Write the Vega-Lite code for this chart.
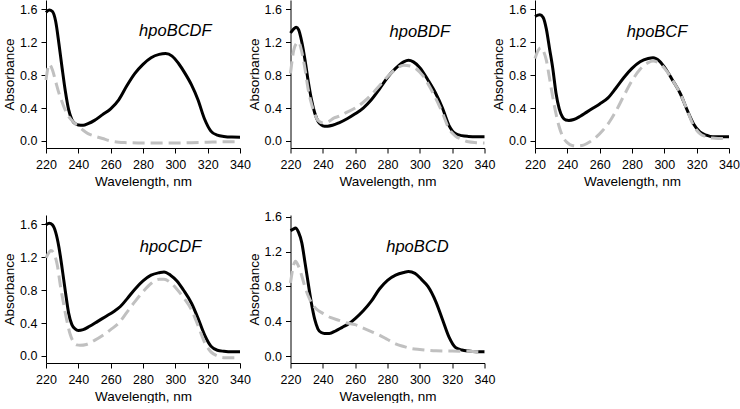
{
  "$schema": "https://vega.github.io/schema/vega-lite/v6.json",
  "padding": {"left": 2, "top": 0, "right": 0, "bottom": 0},
  "background": "white",
  "bounds": "flush",
  "config": {
    "view": {"stroke": null},
    "axis": {"grid": false, "domainColor": "black", "tickColor": "black", "tickSize": 5, "labelFont": "Liberation Sans", "labelFontSize": 12.5, "labelColor": "black", "titleFont": "Liberation Sans", "titleFontSize": 13.5, "titleFontWeight": "normal", "titleColor": "black", "labelFlush": false, "labelOverlap": false},
    "axisX": {"labelPadding": 5, "titlePadding": 4},
    "axisY": {"labelPadding": 4, "titlePadding": 3}
  },
  "datasets": {
    "spectra": [
      {"panel":"hpoBCDF","series":"1","wl":220,"abs":1.56},{"panel":"hpoBCDF","series":"1","wl":222,"abs":1.59},{"panel":"hpoBCDF","series":"1","wl":224,"abs":1.57},{"panel":"hpoBCDF","series":"1","wl":226,"abs":1.45},{"panel":"hpoBCDF","series":"1","wl":228,"abs":1.18},{"panel":"hpoBCDF","series":"1","wl":230,"abs":0.88},{"panel":"hpoBCDF","series":"1","wl":232,"abs":0.6},{"panel":"hpoBCDF","series":"1","wl":234,"abs":0.38},{"panel":"hpoBCDF","series":"1","wl":236,"abs":0.26},{"panel":"hpoBCDF","series":"1","wl":238,"abs":0.21},{"panel":"hpoBCDF","series":"1","wl":240,"abs":0.195},{"panel":"hpoBCDF","series":"1","wl":243,"abs":0.19},{"panel":"hpoBCDF","series":"1","wl":246,"abs":0.21},{"panel":"hpoBCDF","series":"1","wl":250,"abs":0.25},{"panel":"hpoBCDF","series":"1","wl":255,"abs":0.32},{"panel":"hpoBCDF","series":"1","wl":260,"abs":0.39},{"panel":"hpoBCDF","series":"1","wl":265,"abs":0.5},{"panel":"hpoBCDF","series":"1","wl":270,"abs":0.67},{"panel":"hpoBCDF","series":"1","wl":275,"abs":0.82},{"panel":"hpoBCDF","series":"1","wl":280,"abs":0.93},{"panel":"hpoBCDF","series":"1","wl":285,"abs":1.01},{"panel":"hpoBCDF","series":"1","wl":290,"abs":1.05},{"panel":"hpoBCDF","series":"1","wl":294,"abs":1.06},{"panel":"hpoBCDF","series":"1","wl":298,"abs":1.03},{"panel":"hpoBCDF","series":"1","wl":302,"abs":0.94},{"panel":"hpoBCDF","series":"1","wl":306,"abs":0.82},{"panel":"hpoBCDF","series":"1","wl":310,"abs":0.68},{"panel":"hpoBCDF","series":"1","wl":314,"abs":0.5},{"panel":"hpoBCDF","series":"1","wl":318,"abs":0.27},{"panel":"hpoBCDF","series":"1","wl":322,"abs":0.12},{"panel":"hpoBCDF","series":"1","wl":326,"abs":0.07},{"panel":"hpoBCDF","series":"1","wl":330,"abs":0.055},{"panel":"hpoBCDF","series":"1","wl":335,"abs":0.047},{"panel":"hpoBCDF","series":"1","wl":340,"abs":0.045},
      {"panel":"hpoBCDF","series":"2","wl":220,"abs":0.74},{"panel":"hpoBCDF","series":"2","wl":222,"abs":0.93},{"panel":"hpoBCDF","series":"2","wl":224,"abs":0.86},{"panel":"hpoBCDF","series":"2","wl":226,"abs":0.72},{"panel":"hpoBCDF","series":"2","wl":228,"abs":0.58},{"panel":"hpoBCDF","series":"2","wl":230,"abs":0.47},{"panel":"hpoBCDF","series":"2","wl":232,"abs":0.37},{"panel":"hpoBCDF","series":"2","wl":234,"abs":0.3},{"panel":"hpoBCDF","series":"2","wl":236,"abs":0.25},{"panel":"hpoBCDF","series":"2","wl":238,"abs":0.21},{"panel":"hpoBCDF","series":"2","wl":240,"abs":0.18},{"panel":"hpoBCDF","series":"2","wl":243,"abs":0.13},{"panel":"hpoBCDF","series":"2","wl":246,"abs":0.09},{"panel":"hpoBCDF","series":"2","wl":250,"abs":0.06},{"panel":"hpoBCDF","series":"2","wl":255,"abs":0.03},{"panel":"hpoBCDF","series":"2","wl":260,"abs":0.0},{"panel":"hpoBCDF","series":"2","wl":265,"abs":-0.015},{"panel":"hpoBCDF","series":"2","wl":270,"abs":-0.02},{"panel":"hpoBCDF","series":"2","wl":280,"abs":-0.025},{"panel":"hpoBCDF","series":"2","wl":290,"abs":-0.025},{"panel":"hpoBCDF","series":"2","wl":300,"abs":-0.025},{"panel":"hpoBCDF","series":"2","wl":310,"abs":-0.02},{"panel":"hpoBCDF","series":"2","wl":320,"abs":-0.015},{"panel":"hpoBCDF","series":"2","wl":330,"abs":-0.01},{"panel":"hpoBCDF","series":"2","wl":340,"abs":-0.01},
      {"panel":"hpoBDF","series":"1","wl":220,"abs":1.31},{"panel":"hpoBDF","series":"1","wl":222,"abs":1.36},{"panel":"hpoBDF","series":"1","wl":223.5,"abs":1.38},{"panel":"hpoBDF","series":"1","wl":225,"abs":1.35},{"panel":"hpoBDF","series":"1","wl":227,"abs":1.2},{"panel":"hpoBDF","series":"1","wl":229,"abs":0.98},{"panel":"hpoBDF","series":"1","wl":231,"abs":0.72},{"panel":"hpoBDF","series":"1","wl":233,"abs":0.5},{"panel":"hpoBDF","series":"1","wl":235,"abs":0.34},{"panel":"hpoBDF","series":"1","wl":237,"abs":0.24},{"panel":"hpoBDF","series":"1","wl":239,"abs":0.195},{"panel":"hpoBDF","series":"1","wl":241,"abs":0.18},{"panel":"hpoBDF","series":"1","wl":243,"abs":0.18},{"panel":"hpoBDF","series":"1","wl":246,"abs":0.19},{"panel":"hpoBDF","series":"1","wl":250,"abs":0.22},{"panel":"hpoBDF","series":"1","wl":255,"abs":0.27},{"panel":"hpoBDF","series":"1","wl":260,"abs":0.33},{"panel":"hpoBDF","series":"1","wl":265,"abs":0.4},{"panel":"hpoBDF","series":"1","wl":270,"abs":0.5},{"panel":"hpoBDF","series":"1","wl":275,"abs":0.63},{"panel":"hpoBDF","series":"1","wl":280,"abs":0.77},{"panel":"hpoBDF","series":"1","wl":285,"abs":0.88},{"panel":"hpoBDF","series":"1","wl":290,"abs":0.96},{"panel":"hpoBDF","series":"1","wl":293,"abs":0.98},{"panel":"hpoBDF","series":"1","wl":296,"abs":0.96},{"panel":"hpoBDF","series":"1","wl":300,"abs":0.89},{"panel":"hpoBDF","series":"1","wl":305,"abs":0.74},{"panel":"hpoBDF","series":"1","wl":310,"abs":0.57},{"panel":"hpoBDF","series":"1","wl":314,"abs":0.4},{"panel":"hpoBDF","series":"1","wl":318,"abs":0.19},{"panel":"hpoBDF","series":"1","wl":322,"abs":0.09},{"panel":"hpoBDF","series":"1","wl":326,"abs":0.065},{"panel":"hpoBDF","series":"1","wl":330,"abs":0.055},{"panel":"hpoBDF","series":"1","wl":335,"abs":0.05},{"panel":"hpoBDF","series":"1","wl":340,"abs":0.05},
      {"panel":"hpoBDF","series":"2","wl":220,"abs":0.82},{"panel":"hpoBDF","series":"2","wl":222,"abs":1.1},{"panel":"hpoBDF","series":"2","wl":224,"abs":1.19},{"panel":"hpoBDF","series":"2","wl":225,"abs":1.2},{"panel":"hpoBDF","series":"2","wl":227,"abs":1.08},{"panel":"hpoBDF","series":"2","wl":229,"abs":0.87},{"panel":"hpoBDF","series":"2","wl":231,"abs":0.62},{"panel":"hpoBDF","series":"2","wl":233,"abs":0.45},{"panel":"hpoBDF","series":"2","wl":235,"abs":0.33},{"panel":"hpoBDF","series":"2","wl":237,"abs":0.25},{"panel":"hpoBDF","series":"2","wl":240,"abs":0.22},{"panel":"hpoBDF","series":"2","wl":243,"abs":0.23},{"panel":"hpoBDF","series":"2","wl":247,"abs":0.28},{"panel":"hpoBDF","series":"2","wl":250,"abs":0.3},{"panel":"hpoBDF","series":"2","wl":255,"abs":0.35},{"panel":"hpoBDF","series":"2","wl":260,"abs":0.4},{"panel":"hpoBDF","series":"2","wl":265,"abs":0.47},{"panel":"hpoBDF","series":"2","wl":270,"abs":0.56},{"panel":"hpoBDF","series":"2","wl":275,"abs":0.67},{"panel":"hpoBDF","series":"2","wl":280,"abs":0.78},{"panel":"hpoBDF","series":"2","wl":285,"abs":0.87},{"panel":"hpoBDF","series":"2","wl":290,"abs":0.92},{"panel":"hpoBDF","series":"2","wl":294,"abs":0.91},{"panel":"hpoBDF","series":"2","wl":298,"abs":0.87},{"panel":"hpoBDF","series":"2","wl":302,"abs":0.79},{"panel":"hpoBDF","series":"2","wl":306,"abs":0.66},{"panel":"hpoBDF","series":"2","wl":310,"abs":0.51},{"panel":"hpoBDF","series":"2","wl":314,"abs":0.34},{"panel":"hpoBDF","series":"2","wl":318,"abs":0.15},{"panel":"hpoBDF","series":"2","wl":322,"abs":0.06},{"panel":"hpoBDF","series":"2","wl":326,"abs":0.02},{"panel":"hpoBDF","series":"2","wl":330,"abs":-0.01},{"panel":"hpoBDF","series":"2","wl":335,"abs":-0.02},{"panel":"hpoBDF","series":"2","wl":340,"abs":-0.025},
      {"panel":"hpoBCF","series":"1","wl":220,"abs":1.51},{"panel":"hpoBCF","series":"1","wl":223,"abs":1.53},{"panel":"hpoBCF","series":"1","wl":225,"abs":1.5},{"panel":"hpoBCF","series":"1","wl":227,"abs":1.36},{"panel":"hpoBCF","series":"1","wl":229,"abs":1.12},{"panel":"hpoBCF","series":"1","wl":231,"abs":0.88},{"panel":"hpoBCF","series":"1","wl":233,"abs":0.58},{"panel":"hpoBCF","series":"1","wl":235,"abs":0.39},{"panel":"hpoBCF","series":"1","wl":237,"abs":0.29},{"panel":"hpoBCF","series":"1","wl":239,"abs":0.255},{"panel":"hpoBCF","series":"1","wl":241,"abs":0.25},{"panel":"hpoBCF","series":"1","wl":244,"abs":0.26},{"panel":"hpoBCF","series":"1","wl":248,"abs":0.3},{"panel":"hpoBCF","series":"1","wl":252,"abs":0.35},{"panel":"hpoBCF","series":"1","wl":256,"abs":0.4},{"panel":"hpoBCF","series":"1","wl":260,"abs":0.45},{"panel":"hpoBCF","series":"1","wl":265,"abs":0.52},{"panel":"hpoBCF","series":"1","wl":270,"abs":0.64},{"panel":"hpoBCF","series":"1","wl":275,"abs":0.77},{"panel":"hpoBCF","series":"1","wl":280,"abs":0.88},{"panel":"hpoBCF","series":"1","wl":285,"abs":0.96},{"panel":"hpoBCF","series":"1","wl":290,"abs":1.0},{"panel":"hpoBCF","series":"1","wl":293,"abs":1.01},{"panel":"hpoBCF","series":"1","wl":297,"abs":0.97},{"panel":"hpoBCF","series":"1","wl":301,"abs":0.87},{"panel":"hpoBCF","series":"1","wl":305,"abs":0.74},{"panel":"hpoBCF","series":"1","wl":310,"abs":0.57},{"panel":"hpoBCF","series":"1","wl":314,"abs":0.38},{"panel":"hpoBCF","series":"1","wl":318,"abs":0.21},{"panel":"hpoBCF","series":"1","wl":322,"abs":0.11},{"panel":"hpoBCF","series":"1","wl":326,"abs":0.07},{"panel":"hpoBCF","series":"1","wl":330,"abs":0.05},{"panel":"hpoBCF","series":"1","wl":335,"abs":0.05},{"panel":"hpoBCF","series":"1","wl":340,"abs":0.05},
      {"panel":"hpoBCF","series":"2","wl":220,"abs":1.0},{"panel":"hpoBCF","series":"2","wl":222,"abs":1.1},{"panel":"hpoBCF","series":"2","wl":223.5,"abs":1.13},{"panel":"hpoBCF","series":"2","wl":225,"abs":1.1},{"panel":"hpoBCF","series":"2","wl":227,"abs":0.98},{"panel":"hpoBCF","series":"2","wl":229,"abs":0.76},{"panel":"hpoBCF","series":"2","wl":231,"abs":0.53},{"panel":"hpoBCF","series":"2","wl":233,"abs":0.33},{"panel":"hpoBCF","series":"2","wl":235,"abs":0.17},{"panel":"hpoBCF","series":"2","wl":237,"abs":0.06},{"panel":"hpoBCF","series":"2","wl":240,"abs":-0.02},{"panel":"hpoBCF","series":"2","wl":243,"abs":-0.055},{"panel":"hpoBCF","series":"2","wl":246,"abs":-0.06},{"panel":"hpoBCF","series":"2","wl":250,"abs":-0.05},{"panel":"hpoBCF","series":"2","wl":254,"abs":-0.01},{"panel":"hpoBCF","series":"2","wl":258,"abs":0.05},{"panel":"hpoBCF","series":"2","wl":262,"abs":0.13},{"panel":"hpoBCF","series":"2","wl":266,"abs":0.23},{"panel":"hpoBCF","series":"2","wl":270,"abs":0.36},{"panel":"hpoBCF","series":"2","wl":275,"abs":0.55},{"panel":"hpoBCF","series":"2","wl":280,"abs":0.73},{"panel":"hpoBCF","series":"2","wl":285,"abs":0.87},{"panel":"hpoBCF","series":"2","wl":290,"abs":0.95},{"panel":"hpoBCF","series":"2","wl":293,"abs":0.97},{"panel":"hpoBCF","series":"2","wl":297,"abs":0.94},{"panel":"hpoBCF","series":"2","wl":301,"abs":0.86},{"panel":"hpoBCF","series":"2","wl":305,"abs":0.74},{"panel":"hpoBCF","series":"2","wl":310,"abs":0.57},{"panel":"hpoBCF","series":"2","wl":314,"abs":0.38},{"panel":"hpoBCF","series":"2","wl":318,"abs":0.19},{"panel":"hpoBCF","series":"2","wl":322,"abs":0.09},{"panel":"hpoBCF","series":"2","wl":326,"abs":0.05},{"panel":"hpoBCF","series":"2","wl":330,"abs":0.035},{"panel":"hpoBCF","series":"2","wl":335,"abs":0.03},{"panel":"hpoBCF","series":"2","wl":340,"abs":0.025},
      {"panel":"hpoCDF","series":"1","wl":220,"abs":1.59},{"panel":"hpoCDF","series":"1","wl":222,"abs":1.61},{"panel":"hpoCDF","series":"1","wl":224,"abs":1.59},{"panel":"hpoCDF","series":"1","wl":226,"abs":1.5},{"panel":"hpoCDF","series":"1","wl":228,"abs":1.32},{"panel":"hpoCDF","series":"1","wl":230,"abs":1.06},{"panel":"hpoCDF","series":"1","wl":232,"abs":0.78},{"panel":"hpoCDF","series":"1","wl":234,"abs":0.52},{"panel":"hpoCDF","series":"1","wl":236,"abs":0.38},{"panel":"hpoCDF","series":"1","wl":238,"abs":0.33},{"panel":"hpoCDF","series":"1","wl":240,"abs":0.31},{"panel":"hpoCDF","series":"1","wl":243,"abs":0.32},{"panel":"hpoCDF","series":"1","wl":247,"abs":0.36},{"panel":"hpoCDF","series":"1","wl":252,"abs":0.42},{"panel":"hpoCDF","series":"1","wl":257,"abs":0.48},{"panel":"hpoCDF","series":"1","wl":262,"abs":0.54},{"panel":"hpoCDF","series":"1","wl":266,"abs":0.6},{"panel":"hpoCDF","series":"1","wl":270,"abs":0.69},{"panel":"hpoCDF","series":"1","wl":275,"abs":0.81},{"panel":"hpoCDF","series":"1","wl":280,"abs":0.91},{"panel":"hpoCDF","series":"1","wl":285,"abs":0.98},{"panel":"hpoCDF","series":"1","wl":290,"abs":1.01},{"panel":"hpoCDF","series":"1","wl":293,"abs":1.02},{"panel":"hpoCDF","series":"1","wl":297,"abs":0.98},{"panel":"hpoCDF","series":"1","wl":301,"abs":0.91},{"panel":"hpoCDF","series":"1","wl":305,"abs":0.8},{"panel":"hpoCDF","series":"1","wl":310,"abs":0.64},{"panel":"hpoCDF","series":"1","wl":314,"abs":0.46},{"panel":"hpoCDF","series":"1","wl":318,"abs":0.26},{"panel":"hpoCDF","series":"1","wl":322,"abs":0.12},{"panel":"hpoCDF","series":"1","wl":326,"abs":0.07},{"panel":"hpoCDF","series":"1","wl":330,"abs":0.057},{"panel":"hpoCDF","series":"1","wl":335,"abs":0.05},{"panel":"hpoCDF","series":"1","wl":340,"abs":0.05},
      {"panel":"hpoCDF","series":"2","wl":220,"abs":1.19},{"panel":"hpoCDF","series":"2","wl":222,"abs":1.26},{"panel":"hpoCDF","series":"2","wl":223,"abs":1.28},{"panel":"hpoCDF","series":"2","wl":225,"abs":1.24},{"panel":"hpoCDF","series":"2","wl":227,"abs":1.1},{"panel":"hpoCDF","series":"2","wl":229,"abs":0.84},{"panel":"hpoCDF","series":"2","wl":231,"abs":0.62},{"panel":"hpoCDF","series":"2","wl":233,"abs":0.42},{"panel":"hpoCDF","series":"2","wl":235,"abs":0.26},{"panel":"hpoCDF","series":"2","wl":237,"abs":0.17},{"panel":"hpoCDF","series":"2","wl":239,"abs":0.135},{"panel":"hpoCDF","series":"2","wl":241,"abs":0.13},{"panel":"hpoCDF","series":"2","wl":245,"abs":0.14},{"panel":"hpoCDF","series":"2","wl":250,"abs":0.19},{"panel":"hpoCDF","series":"2","wl":255,"abs":0.25},{"panel":"hpoCDF","series":"2","wl":260,"abs":0.32},{"panel":"hpoCDF","series":"2","wl":265,"abs":0.4},{"panel":"hpoCDF","series":"2","wl":270,"abs":0.53},{"panel":"hpoCDF","series":"2","wl":275,"abs":0.66},{"panel":"hpoCDF","series":"2","wl":280,"abs":0.78},{"panel":"hpoCDF","series":"2","wl":285,"abs":0.88},{"panel":"hpoCDF","series":"2","wl":290,"abs":0.93},{"panel":"hpoCDF","series":"2","wl":293,"abs":0.93},{"panel":"hpoCDF","series":"2","wl":297,"abs":0.89},{"panel":"hpoCDF","series":"2","wl":301,"abs":0.81},{"panel":"hpoCDF","series":"2","wl":305,"abs":0.71},{"panel":"hpoCDF","series":"2","wl":310,"abs":0.56},{"panel":"hpoCDF","series":"2","wl":314,"abs":0.37},{"panel":"hpoCDF","series":"2","wl":318,"abs":0.17},{"panel":"hpoCDF","series":"2","wl":322,"abs":0.05},{"panel":"hpoCDF","series":"2","wl":326,"abs":0.0},{"panel":"hpoCDF","series":"2","wl":330,"abs":-0.02},{"panel":"hpoCDF","series":"2","wl":335,"abs":-0.02},{"panel":"hpoCDF","series":"2","wl":340,"abs":-0.02},
      {"panel":"hpoBCD","series":"1","wl":220,"abs":1.44},{"panel":"hpoBCD","series":"1","wl":222,"abs":1.46},{"panel":"hpoBCD","series":"1","wl":223,"abs":1.47},{"panel":"hpoBCD","series":"1","wl":225,"abs":1.42},{"panel":"hpoBCD","series":"1","wl":227,"abs":1.3},{"panel":"hpoBCD","series":"1","wl":229,"abs":1.07},{"panel":"hpoBCD","series":"1","wl":231,"abs":0.83},{"panel":"hpoBCD","series":"1","wl":233,"abs":0.6},{"panel":"hpoBCD","series":"1","wl":235,"abs":0.42},{"panel":"hpoBCD","series":"1","wl":237,"abs":0.31},{"panel":"hpoBCD","series":"1","wl":239,"abs":0.27},{"panel":"hpoBCD","series":"1","wl":241,"abs":0.26},{"panel":"hpoBCD","series":"1","wl":244,"abs":0.26},{"panel":"hpoBCD","series":"1","wl":248,"abs":0.29},{"panel":"hpoBCD","series":"1","wl":252,"abs":0.33},{"panel":"hpoBCD","series":"1","wl":256,"abs":0.37},{"panel":"hpoBCD","series":"1","wl":260,"abs":0.43},{"panel":"hpoBCD","series":"1","wl":265,"abs":0.52},{"panel":"hpoBCD","series":"1","wl":270,"abs":0.63},{"panel":"hpoBCD","series":"1","wl":275,"abs":0.77},{"panel":"hpoBCD","series":"1","wl":280,"abs":0.87},{"panel":"hpoBCD","series":"1","wl":285,"abs":0.93},{"panel":"hpoBCD","series":"1","wl":290,"abs":0.96},{"panel":"hpoBCD","series":"1","wl":293,"abs":0.97},{"panel":"hpoBCD","series":"1","wl":297,"abs":0.95},{"panel":"hpoBCD","series":"1","wl":301,"abs":0.88},{"panel":"hpoBCD","series":"1","wl":305,"abs":0.8},{"panel":"hpoBCD","series":"1","wl":310,"abs":0.62},{"panel":"hpoBCD","series":"1","wl":314,"abs":0.42},{"panel":"hpoBCD","series":"1","wl":318,"abs":0.22},{"panel":"hpoBCD","series":"1","wl":322,"abs":0.1},{"panel":"hpoBCD","series":"1","wl":326,"abs":0.07},{"panel":"hpoBCD","series":"1","wl":330,"abs":0.057},{"panel":"hpoBCD","series":"1","wl":335,"abs":0.05},{"panel":"hpoBCD","series":"1","wl":340,"abs":0.05},
      {"panel":"hpoBCD","series":"2","wl":220,"abs":0.84},{"panel":"hpoBCD","series":"2","wl":222,"abs":1.05},{"panel":"hpoBCD","series":"2","wl":223,"abs":1.09},{"panel":"hpoBCD","series":"2","wl":225,"abs":1.03},{"panel":"hpoBCD","series":"2","wl":227,"abs":0.92},{"panel":"hpoBCD","series":"2","wl":229,"abs":0.79},{"panel":"hpoBCD","series":"2","wl":231,"abs":0.69},{"panel":"hpoBCD","series":"2","wl":233,"abs":0.61},{"panel":"hpoBCD","series":"2","wl":236,"abs":0.54},{"panel":"hpoBCD","series":"2","wl":240,"abs":0.49},{"panel":"hpoBCD","series":"2","wl":245,"abs":0.44},{"panel":"hpoBCD","series":"2","wl":250,"abs":0.41},{"panel":"hpoBCD","series":"2","wl":255,"abs":0.38},{"panel":"hpoBCD","series":"2","wl":260,"abs":0.36},{"panel":"hpoBCD","series":"2","wl":265,"abs":0.32},{"panel":"hpoBCD","series":"2","wl":270,"abs":0.28},{"panel":"hpoBCD","series":"2","wl":275,"abs":0.24},{"panel":"hpoBCD","series":"2","wl":280,"abs":0.19},{"panel":"hpoBCD","series":"2","wl":285,"abs":0.14},{"panel":"hpoBCD","series":"2","wl":290,"abs":0.11},{"panel":"hpoBCD","series":"2","wl":295,"abs":0.085},{"panel":"hpoBCD","series":"2","wl":300,"abs":0.075},{"panel":"hpoBCD","series":"2","wl":310,"abs":0.06},{"panel":"hpoBCD","series":"2","wl":320,"abs":0.057},{"panel":"hpoBCD","series":"2","wl":330,"abs":0.055},{"panel":"hpoBCD","series":"2","wl":340,"abs":0.046}
    ],
    "labels": [
      {"panel": "hpoBCDF", "text": "hpoBCDF"},
      {"panel": "hpoBDF", "text": "hpoBDF"},
      {"panel": "hpoBCF", "text": "hpoBCF"},
      {"panel": "hpoCDF", "text": "hpoCDF"},
      {"panel": "hpoBCD", "text": "hpoBCD"}
    ]
  },
  "columns": 3,
  "spacing": {"row": 67, "column": 50.5},
  "concat": [
    {
      "width": 194, "height": 148,
      "layer": [
        {"data": {"name": "spectra"}, "transform": [{"filter": "datum.panel === 'hpoBCDF' && datum.series === '1'"}], "mark": {"type": "line", "interpolate": "monotone", "color": "black", "strokeWidth": 3},
         "encoding": {"x": {"field": "wl", "type": "quantitative", "scale": {"domain": [220, 340], "nice": false}, "axis": {"values": [220, 240, 260, 280, 300, 320, 340]}, "title": "Wavelength, nm"},
                      "y": {"field": "abs", "type": "quantitative", "scale": {"domain": [-0.085, 1.71], "nice": false}, "axis": {"values": [0, 0.4, 0.8, 1.2, 1.6], "format": ".1f"}, "title": "Absorbance"}}},
        {"data": {"name": "spectra"}, "transform": [{"filter": "datum.panel === 'hpoBCDF' && datum.series === '2'"}], "mark": {"type": "line", "interpolate": "monotone", "color": "#c0c0c0", "strokeWidth": 3, "strokeDash": [12, 6]},
         "encoding": {"x": {"field": "wl", "type": "quantitative", "axis": {"values": [220, 240, 260, 280, 300, 320, 340]}, "title": "Wavelength, nm"}, "y": {"field": "abs", "type": "quantitative", "axis": {"values": [0, 0.4, 0.8, 1.2, 1.6], "format": ".1f"}, "title": "Absorbance"}}},
        {"data": {"name": "labels"}, "transform": [{"filter": "datum.panel === 'hpoBCDF'"}], "mark": {"type": "text", "font": "Liberation Sans", "fontStyle": "italic", "fontSize": 16.5, "fill": "black"},
         "encoding": {"x": {"datum": 300, "type": "quantitative", "axis": {"values": [220, 240, 260, 280, 300, 320, 340]}, "title": "Wavelength, nm"}, "y": {"datum": 1.33, "type": "quantitative", "axis": {"values": [0, 0.4, 0.8, 1.2, 1.6], "format": ".1f"}, "title": "Absorbance"}, "text": {"field": "text"}}}
      ]
    },
    {
      "width": 194, "height": 148,
      "layer": [
        {"data": {"name": "spectra"}, "transform": [{"filter": "datum.panel === 'hpoBDF' && datum.series === '1'"}], "mark": {"type": "line", "interpolate": "monotone", "color": "black", "strokeWidth": 3},
         "encoding": {"x": {"field": "wl", "type": "quantitative", "scale": {"domain": [220, 340], "nice": false}, "axis": {"values": [220, 240, 260, 280, 300, 320, 340]}, "title": "Wavelength, nm"},
                      "y": {"field": "abs", "type": "quantitative", "scale": {"domain": [-0.085, 1.71], "nice": false}, "axis": {"values": [0, 0.4, 0.8, 1.2, 1.6], "format": ".1f"}, "title": "Absorbance"}}},
        {"data": {"name": "spectra"}, "transform": [{"filter": "datum.panel === 'hpoBDF' && datum.series === '2'"}], "mark": {"type": "line", "interpolate": "monotone", "color": "#c0c0c0", "strokeWidth": 3, "strokeDash": [12, 6]},
         "encoding": {"x": {"field": "wl", "type": "quantitative", "axis": {"values": [220, 240, 260, 280, 300, 320, 340]}, "title": "Wavelength, nm"}, "y": {"field": "abs", "type": "quantitative", "axis": {"values": [0, 0.4, 0.8, 1.2, 1.6], "format": ".1f"}, "title": "Absorbance"}}},
        {"data": {"name": "labels"}, "transform": [{"filter": "datum.panel === 'hpoBDF'"}], "mark": {"type": "text", "font": "Liberation Sans", "fontStyle": "italic", "fontSize": 16.5, "fill": "black"},
         "encoding": {"x": {"datum": 300, "type": "quantitative", "axis": {"values": [220, 240, 260, 280, 300, 320, 340]}, "title": "Wavelength, nm"}, "y": {"datum": 1.32, "type": "quantitative", "axis": {"values": [0, 0.4, 0.8, 1.2, 1.6], "format": ".1f"}, "title": "Absorbance"}, "text": {"field": "text"}}}
      ]
    },
    {
      "width": 194, "height": 148,
      "layer": [
        {"data": {"name": "spectra"}, "transform": [{"filter": "datum.panel === 'hpoBCF' && datum.series === '1'"}], "mark": {"type": "line", "interpolate": "monotone", "color": "black", "strokeWidth": 3},
         "encoding": {"x": {"field": "wl", "type": "quantitative", "scale": {"domain": [220, 340], "nice": false}, "axis": {"values": [220, 240, 260, 280, 300, 320, 340]}, "title": "Wavelength, nm"},
                      "y": {"field": "abs", "type": "quantitative", "scale": {"domain": [-0.085, 1.71], "nice": false}, "axis": {"values": [0, 0.4, 0.8, 1.2, 1.6], "format": ".1f"}, "title": "Absorbance"}}},
        {"data": {"name": "spectra"}, "transform": [{"filter": "datum.panel === 'hpoBCF' && datum.series === '2'"}], "mark": {"type": "line", "interpolate": "monotone", "color": "#c0c0c0", "strokeWidth": 3, "strokeDash": [12, 6]},
         "encoding": {"x": {"field": "wl", "type": "quantitative", "axis": {"values": [220, 240, 260, 280, 300, 320, 340]}, "title": "Wavelength, nm"}, "y": {"field": "abs", "type": "quantitative", "axis": {"values": [0, 0.4, 0.8, 1.2, 1.6], "format": ".1f"}, "title": "Absorbance"}}},
        {"data": {"name": "labels"}, "transform": [{"filter": "datum.panel === 'hpoBCF'"}], "mark": {"type": "text", "font": "Liberation Sans", "fontStyle": "italic", "fontSize": 16.5, "fill": "black"},
         "encoding": {"x": {"datum": 295.5, "type": "quantitative", "axis": {"values": [220, 240, 260, 280, 300, 320, 340]}, "title": "Wavelength, nm"}, "y": {"datum": 1.32, "type": "quantitative", "axis": {"values": [0, 0.4, 0.8, 1.2, 1.6], "format": ".1f"}, "title": "Absorbance"}, "text": {"field": "text"}}}
      ]
    },
    {
      "width": 194, "height": 148,
      "layer": [
        {"data": {"name": "spectra"}, "transform": [{"filter": "datum.panel === 'hpoCDF' && datum.series === '1'"}], "mark": {"type": "line", "interpolate": "monotone", "color": "black", "strokeWidth": 3},
         "encoding": {"x": {"field": "wl", "type": "quantitative", "scale": {"domain": [220, 340], "nice": false}, "axis": {"values": [220, 240, 260, 280, 300, 320, 340]}, "title": "Wavelength, nm"},
                      "y": {"field": "abs", "type": "quantitative", "scale": {"domain": [-0.085, 1.71], "nice": false}, "axis": {"values": [0, 0.4, 0.8, 1.2, 1.6], "format": ".1f"}, "title": "Absorbance"}}},
        {"data": {"name": "spectra"}, "transform": [{"filter": "datum.panel === 'hpoCDF' && datum.series === '2'"}], "mark": {"type": "line", "interpolate": "monotone", "color": "#c0c0c0", "strokeWidth": 3, "strokeDash": [12, 6]},
         "encoding": {"x": {"field": "wl", "type": "quantitative", "axis": {"values": [220, 240, 260, 280, 300, 320, 340]}, "title": "Wavelength, nm"}, "y": {"field": "abs", "type": "quantitative", "axis": {"values": [0, 0.4, 0.8, 1.2, 1.6], "format": ".1f"}, "title": "Absorbance"}}},
        {"data": {"name": "labels"}, "transform": [{"filter": "datum.panel === 'hpoCDF'"}], "mark": {"type": "text", "font": "Liberation Sans", "fontStyle": "italic", "fontSize": 16.5, "fill": "black"},
         "encoding": {"x": {"datum": 297, "type": "quantitative", "axis": {"values": [220, 240, 260, 280, 300, 320, 340]}, "title": "Wavelength, nm"}, "y": {"datum": 1.32, "type": "quantitative", "axis": {"values": [0, 0.4, 0.8, 1.2, 1.6], "format": ".1f"}, "title": "Absorbance"}, "text": {"field": "text"}}}
      ]
    },
    {
      "width": 194, "height": 148,
      "layer": [
        {"data": {"name": "spectra"}, "transform": [{"filter": "datum.panel === 'hpoBCD' && datum.series === '1'"}], "mark": {"type": "line", "interpolate": "monotone", "color": "black", "strokeWidth": 3},
         "encoding": {"x": {"field": "wl", "type": "quantitative", "scale": {"domain": [220, 340], "nice": false}, "axis": {"values": [220, 240, 260, 280, 300, 320, 340]}, "title": "Wavelength, nm"},
                      "y": {"field": "abs", "type": "quantitative", "scale": {"domain": [-0.08, 1.62], "nice": false}, "axis": {"values": [0, 0.4, 0.8, 1.2, 1.6], "format": ".1f"}, "title": "Absorbance"}}},
        {"data": {"name": "spectra"}, "transform": [{"filter": "datum.panel === 'hpoBCD' && datum.series === '2'"}], "mark": {"type": "line", "interpolate": "monotone", "color": "#c0c0c0", "strokeWidth": 3, "strokeDash": [12, 6]},
         "encoding": {"x": {"field": "wl", "type": "quantitative", "axis": {"values": [220, 240, 260, 280, 300, 320, 340]}, "title": "Wavelength, nm"}, "y": {"field": "abs", "type": "quantitative", "axis": {"values": [0, 0.4, 0.8, 1.2, 1.6], "format": ".1f"}, "title": "Absorbance"}}},
        {"data": {"name": "labels"}, "transform": [{"filter": "datum.panel === 'hpoBCD'"}], "mark": {"type": "text", "font": "Liberation Sans", "fontStyle": "italic", "fontSize": 16.5, "fill": "black"},
         "encoding": {"x": {"datum": 298.5, "type": "quantitative", "axis": {"values": [220, 240, 260, 280, 300, 320, 340]}, "title": "Wavelength, nm"}, "y": {"datum": 1.25, "type": "quantitative", "axis": {"values": [0, 0.4, 0.8, 1.2, 1.6], "format": ".1f"}, "title": "Absorbance"}, "text": {"field": "text"}}}
      ]
    }
  ]
}
